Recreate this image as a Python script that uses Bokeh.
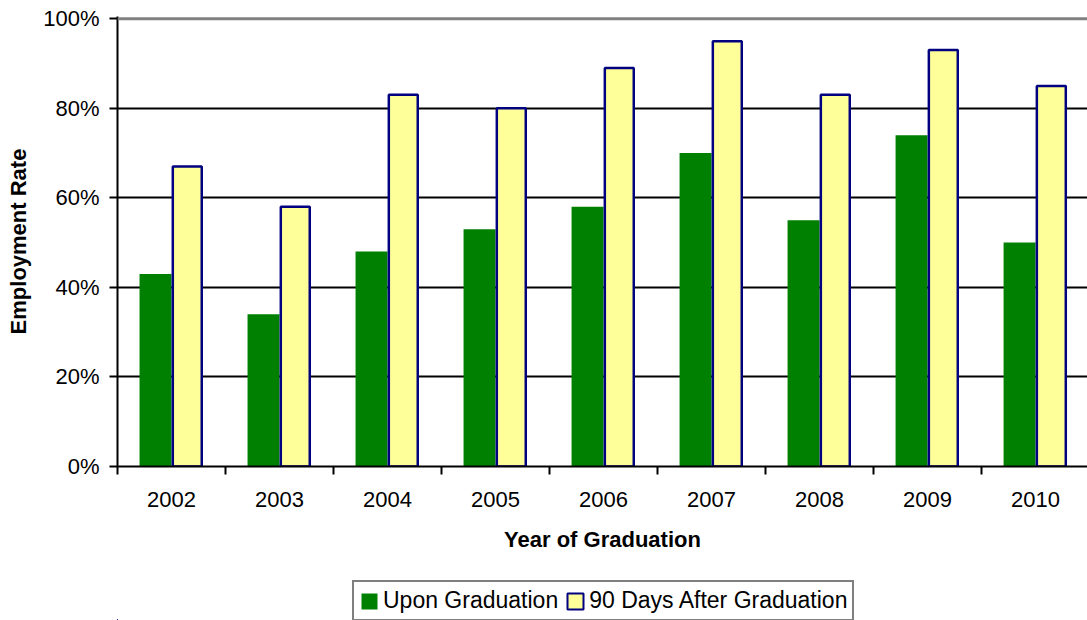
from bokeh.plotting import figure
from bokeh.layouts import column
from bokeh.models import (ColumnDataSource, FixedTicker, PrintfTickFormatter, Span,
                          Legend, LegendItem, Range1d)
from bokeh.transform import dodge
from bokeh.embed import file_html
from bokeh.resources import INLINE

years = ["2002", "2003", "2004", "2005", "2006", "2007", "2008", "2009", "2010"]
upon_graduation = [43, 34, 48, 53, 58, 70, 55, 74, 50]
after_90_days = [67, 58, 83, 80, 89, 95, 83, 93, 85]
series_names = ["Upon Graduation", "90 Days After Graduation"]
y_ticks = [0, 20, 40, 60, 80, 100]
grid_ticks = [20, 40, 60, 80]

FONT = "Liberation Sans"
GREEN = "#008000"
YELLOW = "#FFFF99"
NAVY = "#000080"

pos = [i + 0.5 for i in range(len(years))]
src = ColumnDataSource(dict(x=pos, upon=upon_graduation, after=after_90_days))

p = figure(width=1087, height=560, x_range=Range1d(0, 8.981), y_range=Range1d(0, 100.5),
           output_backend="svg", toolbar_location=None,
           min_border_left=117, min_border_right=0, min_border_top=16, min_border_bottom=94)
p.outline_line_color = None
p.background_fill_color = "white"

p.vbar(x=dodge("x", -0.148, range=p.x_range), top="upon", bottom=0, width=0.296,
       fill_color=GREEN, line_color=None, source=src)
p.vbar(x=dodge("x", 0.146, range=p.x_range), top="after", bottom=0, width=0.268,
       fill_color=YELLOW, line_color=NAVY, line_width=2.5, source=src)

p.add_layout(Span(location=100, dimension="width", line_color="#808080", line_width=3))

p.xgrid.visible = False
p.ygrid.ticker = FixedTicker(ticks=grid_ticks)
p.ygrid.grid_line_color = "black"
p.ygrid.grid_line_width = 2

ya = p.yaxis[0]
ya.ticker = FixedTicker(ticks=y_ticks)
ya.formatter = PrintfTickFormatter(format="%d%%")
ya.major_tick_in = 0
ya.major_tick_out = 8
ya.major_tick_line_width = 2
ya.major_tick_line_color = "black"
ya.minor_tick_line_color = None
ya.axis_line_width = 2
ya.axis_line_color = "black"
ya.major_label_standoff = 10
ya.major_label_text_font = FONT
ya.major_label_text_font_size = "22px"
ya.major_label_text_color = "black"
ya.axis_label = "Employment Rate"
ya.axis_label_text_font = FONT
ya.axis_label_text_font_size = "22px"
ya.axis_label_text_font_style = "bold"
ya.axis_label_text_color = "black"
ya.axis_label_standoff = 9

xa = p.xaxis[0]
xa.ticker = FixedTicker(ticks=pos, minor_ticks=list(range(len(years) + 1)))
xa.major_label_overrides = {pos[i]: years[i] for i in range(len(years))}
xa.major_tick_in = 0
xa.major_tick_out = 8
xa.major_tick_line_color = None
xa.minor_tick_in = 0
xa.minor_tick_out = 8
xa.minor_tick_line_width = 2
xa.minor_tick_line_color = "black"
xa.axis_line_width = 2
xa.axis_line_color = "black"
xa.major_label_standoff = 17
xa.major_label_text_font = FONT
xa.major_label_text_font_size = "22px"
xa.major_label_text_color = "black"
xa.axis_label = "Year of Graduation"
xa.axis_label_text_font = FONT
xa.axis_label_text_font_size = "22px"
xa.axis_label_text_font_style = "bold"
xa.axis_label_text_color = "black"
xa.axis_label_standoff = 17

# Legend strip below the chart (swatch renderers sit outside its visible ranges)
p2 = figure(width=1087, height=60, x_range=Range1d(100, 101), y_range=Range1d(1000, 1001),
            output_backend="svg", toolbar_location=None, x_axis_type=None, y_axis_type=None,
            min_border_left=0, min_border_right=0, min_border_top=0, min_border_bottom=0)
p2.outline_line_color = None
p2.grid.visible = False
l1 = p2.vbar(x="x", top="upon", bottom=0, width=0.3, fill_color=GREEN, line_color=None, source=src)
l2 = p2.vbar(x="x", top="after", bottom=0, width=0.3, fill_color=YELLOW, line_color=NAVY,
             line_width=2, source=src)

legend = Legend(items=[LegendItem(label=series_names[0], renderers=[l1]),
                       LegendItem(label=series_names[1], renderers=[l2])],
                orientation="horizontal", location=(235, -1),
                border_line_color="black", border_line_width=2,
                label_text_font=FONT, label_text_font_size="23px", label_text_color="black",
                glyph_width=20, glyph_height=20, label_standoff=4, spacing=7,
                padding=5, margin=0, background_fill_color="white", background_fill_alpha=1)
p2.add_layout(legend, "center")

layout = column(p, p2, spacing=0)
open("out.html", "w").write(file_html(layout, INLINE))
